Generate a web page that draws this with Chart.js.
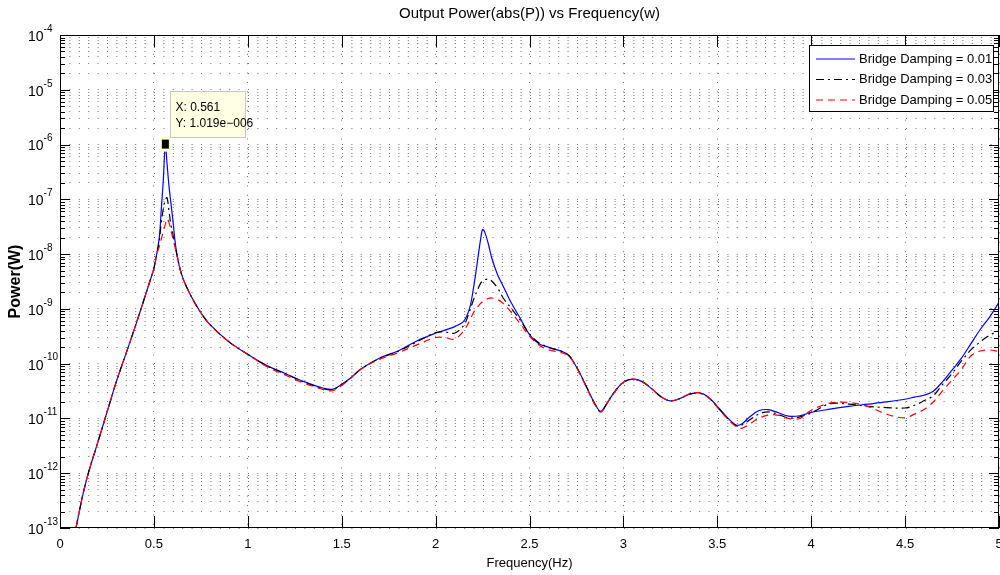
<!DOCTYPE html>
<html>
<head>
<meta charset="utf-8">
<script src="https://cdn.jsdelivr.net/npm/chart.js@4.4.1/dist/chart.umd.min.js"></script>
<style>
  html, body { margin: 0; padding: 0; background: #fff; }
  #wrap { width: 1000px; height: 575px; }
</style>
</head>
<body>
<div id="wrap"><canvas id="chart" width="1000" height="575"></canvas></div>
<script>
// frequency samples (Hz)
const freq = [
  0.085, 0.12, 0.15, 0.20, 0.25, 0.30, 0.35, 0.40, 0.45, 0.48,
  0.50, 0.52, 0.53, 0.54, 0.55, 0.561, 0.57, 0.58, 0.59, 0.60,
  0.62, 0.65, 0.70, 0.75, 0.80, 0.90, 1.00, 1.10, 1.20, 1.30,
  1.40, 1.45, 1.50, 1.55, 1.60, 1.70, 1.80, 1.90, 2.00, 2.05,
  2.10, 2.15, 2.18, 2.20, 2.22, 2.24, 2.25, 2.26, 2.28, 2.30,
  2.33, 2.36, 2.40, 2.45, 2.50, 2.55, 2.60, 2.70, 2.75, 2.80,
  2.85, 2.88, 2.92, 2.96, 3.00, 3.05, 3.10, 3.15, 3.20, 3.25,
  3.30, 3.35, 3.40, 3.45, 3.50, 3.55, 3.60, 3.63, 3.67, 3.72,
  3.77, 3.82, 3.88, 3.94, 4.00, 4.10, 4.20, 4.30, 4.40, 4.50,
  4.55, 4.60, 4.65, 4.70, 4.75, 4.80, 4.85, 4.90, 4.95, 5.00
];

// output power (W) for each bridge damping ratio
const power001 = [
  1.0e-13, 3.8e-13, 9.8e-13, 3.55e-12, 1.29e-11, 4.7e-11, 1.48e-10, 4.7e-10, 1.58e-9, 3.3e-9,
  5.5e-9, 1.26e-8, 2.2e-8, 7.1e-8, 2.2e-7, 1.019e-6, 4.5e-7, 1.8e-7, 8.9e-8, 4.5e-8,
  1.12e-8, 4.0e-9, 1.66e-9, 8.5e-10, 5.1e-10, 2.5e-10, 1.48e-10, 9.3e-11, 6.6e-11, 4.7e-11,
  3.6e-11, 3.4e-11, 4.2e-11, 5.6e-11, 7.9e-11, 1.26e-10, 1.7e-10, 2.6e-10, 3.6e-10, 4.1e-10,
  4.7e-10, 6.0e-10, 1.0e-9, 2.2e-9, 6.3e-9, 1.9e-8, 2.8e-8, 2.6e-8, 1.58e-8, 8.3e-9,
  4.2e-9, 2.6e-9, 1.35e-9, 6.8e-10, 3.4e-10, 2.3e-10, 2.0e-10, 1.5e-10, 8.7e-11, 4.0e-11,
  1.8e-11, 1.35e-11, 2.1e-11, 3.3e-11, 4.6e-11, 5.2e-11, 4.7e-11, 3.5e-11, 2.5e-11, 2.1e-11,
  2.3e-11, 2.75e-11, 2.95e-11, 2.5e-11, 1.66e-11, 1.07e-11, 7.6e-12, 7.9e-12, 1.05e-11, 1.38e-11,
  1.45e-11, 1.29e-11, 1.1e-11, 1.12e-11, 1.29e-11, 1.48e-11, 1.66e-11, 1.82e-11, 2.0e-11, 2.24e-11,
  2.45e-11, 2.65e-11, 3.15e-11, 4.7e-11, 7.6e-11, 1.26e-10, 2.3e-10, 4.2e-10, 7.1e-10, 1.32e-9
];
const power003 = [
  1.0e-13, 3.8e-13, 9.8e-13, 3.55e-12, 1.29e-11, 4.7e-11, 1.48e-10, 4.7e-10, 1.58e-9, 3.3e-9,
  5.5e-9, 1.2e-8, 1.9e-8, 4.0e-8, 6.6e-8, 1.0e-7, 1.07e-7, 6.3e-8, 3.5e-8, 2.4e-8,
  1.07e-8, 4.0e-9, 1.66e-9, 8.5e-10, 5.1e-10, 2.5e-10, 1.48e-10, 9.2e-11, 6.5e-11, 4.6e-11,
  3.5e-11, 3.35e-11, 4.1e-11, 5.5e-11, 7.8e-11, 1.24e-10, 1.68e-10, 2.5e-10, 3.7e-10, 3.8e-10,
  3.6e-10, 5.0e-10, 8.9e-10, 1.41e-9, 2.1e-9, 2.95e-9, 3.2e-9, 3.4e-9, 3.5e-9, 3.2e-9,
  2.4e-9, 1.58e-9, 1.05e-9, 6.3e-10, 3.5e-10, 2.4e-10, 2.0e-10, 1.5e-10, 8.7e-11, 4.0e-11,
  1.8e-11, 1.33e-11, 2.1e-11, 3.3e-11, 4.6e-11, 5.2e-11, 4.7e-11, 3.5e-11, 2.5e-11, 2.1e-11,
  2.3e-11, 2.75e-11, 2.9e-11, 2.45e-11, 1.62e-11, 1.05e-11, 7.4e-12, 7.6e-12, 9.3e-12, 1.2e-11,
  1.32e-11, 1.2e-11, 1.02e-11, 1.07e-11, 1.26e-11, 1.86e-11, 1.82e-11, 1.66e-11, 1.58e-11, 1.55e-11,
  1.74e-11, 2.1e-11, 2.6e-11, 4.2e-11, 6.6e-11, 1.12e-10, 1.78e-10, 2.5e-10, 3.3e-10, 4.0e-10
];
const power005 = [
  1.0e-13, 3.8e-13, 9.8e-13, 3.55e-12, 1.29e-11, 4.7e-11, 1.48e-10, 4.7e-10, 1.58e-9, 3.3e-9,
  5.4e-9, 1.12e-8, 1.41e-8, 1.9e-8, 2.6e-8, 3.5e-8, 4.4e-8, 3.8e-8, 2.8e-8, 2.0e-8,
  1.05e-8, 4.0e-9, 1.66e-9, 8.5e-10, 5.1e-10, 2.5e-10, 1.48e-10, 8.9e-11, 6.2e-11, 4.4e-11,
  3.4e-11, 3.2e-11, 4.0e-11, 5.5e-11, 7.8e-11, 1.2e-10, 1.58e-10, 2.2e-10, 3.0e-10, 3.0e-10,
  2.8e-10, 4.0e-10, 6.0e-10, 8.3e-10, 1.05e-9, 1.26e-9, 1.35e-9, 1.41e-9, 1.55e-9, 1.58e-9,
  1.48e-9, 1.26e-9, 8.9e-10, 5.4e-10, 3.2e-10, 2.2e-10, 1.8e-10, 1.45e-10, 8.5e-11, 3.9e-11,
  1.75e-11, 1.3e-11, 2.05e-11, 3.25e-11, 4.6e-11, 5.2e-11, 4.7e-11, 3.5e-11, 2.5e-11, 2.1e-11,
  2.3e-11, 2.8e-11, 2.95e-11, 2.45e-11, 1.6e-11, 1.02e-11, 7.1e-12, 6.6e-12, 7.9e-12, 1.0e-11,
  1.15e-11, 1.15e-11, 1.0e-11, 1.0e-11, 1.41e-11, 1.9e-11, 1.95e-11, 1.66e-11, 1.2e-11, 1.02e-11,
  1.2e-11, 1.45e-11, 2.0e-11, 3.2e-11, 5.0e-11, 7.9e-11, 1.38e-10, 1.7e-10, 1.78e-10, 1.66e-10
];

const seriesLabels = ['Bridge Damping = 0.01', 'Bridge Damping = 0.03', 'Bridge Damping = 0.05'];
const xTicks = [0, 0.5, 1, 1.5, 2, 2.5, 3, 3.5, 4, 4.5, 5];
const yDecades = [-13, -12, -11, -10, -9, -8, -7, -6, -5, -4];
const minorSteps = [2, 3, 4, 5, 6, 7, 8, 9];
const dataTip = { x: 0.561, y: 1.019e-6 };

const FONT = "'Liberation Sans', Arial, Helvetica, sans-serif";
const gridColor = 'rgba(0,0,0,0.55)';

const points = vals => freq.map((f, i) => ({ x: f, y: vals[i] }));

const isDecade = v => Math.abs(Math.log10(v) - Math.round(Math.log10(v))) < 1e-6;

// box, inward ticks, superscript log labels, legend and data cursor
const matlabAxes = {
  id: 'matlabAxes',
  afterDatasetsDraw(chart) {
    const { ctx, chartArea: a, scales: { x, y } } = chart;
    ctx.save();
    ctx.setLineDash([]);
    ctx.strokeStyle = '#000';
    ctx.lineWidth = 1;

    const seg = (x1, y1, x2, y2) => {
      ctx.beginPath(); ctx.moveTo(x1, y1); ctx.lineTo(x2, y2); ctx.stroke();
    };

    y.ticks.forEach(t => {
      const py = Math.round(y.getPixelForValue(t.value)) + 0.5;
      const len = isDecade(t.value) ? 10 : 5;
      seg(a.left, py, a.left + len, py);
      seg(a.right - len, py, a.right, py);
    });
    x.ticks.forEach(t => {
      const px = Math.round(x.getPixelForValue(t.value)) + 0.5;
      seg(px, a.bottom, px, a.bottom - 12);
      seg(px, a.top, px, a.top + 12);
    });
    ctx.strokeRect(a.left + 0.5, a.top + 0.5, a.width - 1, a.height - 1);

    // tick labels
    ctx.fillStyle = '#000';
    ctx.textBaseline = 'middle';
    ctx.textAlign = 'center';
    ctx.font = '13px ' + FONT;
    xTicks.forEach(v => {
      ctx.fillText(String(v), x.getPixelForValue(v), a.bottom + 16);
    });
    ctx.textAlign = 'left';
    yDecades.forEach(d => {
      const py = y.getPixelForValue(Math.pow(10, d));
      ctx.font = '14px ' + FONT;
      ctx.fillText('10', 28, py + 2);
      const w = ctx.measureText('10').width;
      ctx.font = '10px ' + FONT;
      ctx.fillText('-' + Math.abs(d), 28 + w, py - 6);
    });

    // legend
    const lw = 185, lh = 67;
    const lx = a.right - lw - 5, ly = a.top + 10;
    ctx.fillStyle = '#fff';
    ctx.fillRect(lx, ly, lw, lh);
    ctx.strokeStyle = '#000';
    ctx.strokeRect(lx + 0.5, ly + 0.5, lw - 1, lh - 1);
    ctx.font = '13px ' + FONT;
    chart.data.datasets.forEach((ds, i) => {
      const ry = ly + 14 + i * 20.5;
      ctx.strokeStyle = ds.borderColor;
      ctx.lineWidth = ds.borderWidth;
      ctx.setLineDash(ds.borderDash || []);
      seg(lx + 7, ry, lx + 46, ry);
      ctx.setLineDash([]);
      ctx.fillStyle = '#000';
      ctx.fillText(ds.label, lx + 50, ry);
    });

    // data cursor on the first resonance
    const mx = x.getPixelForValue(dataTip.x);
    const my = y.getPixelForValue(dataTip.y);
    ctx.fillStyle = 'rgb(255,255,210)';
    ctx.fillRect(mx - 5.5, my - 7.5, 11, 15);
    ctx.fillStyle = '#000';
    ctx.fillRect(mx - 3.5, my - 4.5, 7, 9);
    const bx = Math.round(mx + 5) + 0.5, by = Math.round(my - 53) + 0.5;
    ctx.fillStyle = 'rgb(255,255,228)';
    ctx.fillRect(bx, by, 75, 46);
    ctx.strokeStyle = 'rgb(200,200,190)';
    ctx.lineWidth = 1;
    ctx.strokeRect(bx, by, 75, 46);
    ctx.fillStyle = '#000';
    ctx.font = '12px ' + FONT;
    ctx.fillText('X: ' + dataTip.x, bx + 5, by + 16);
    ctx.fillText('Y: 1.019e\u2212006', bx + 5, by + 32);
    ctx.restore();
  }
};

new Chart(document.getElementById('chart'), {
  type: 'line',
  data: {
    datasets: [
      {
        label: seriesLabels[0], data: points(power001),
        borderColor: '#0000ff', borderWidth: 1.2, order: 3
      },
      {
        label: seriesLabels[1], data: points(power003),
        borderColor: '#000000', borderWidth: 1.2, borderDash: [8, 4, 2, 4], order: 2
      },
      {
        label: seriesLabels[2], data: points(power005),
        borderColor: '#ff0000', borderWidth: 1.2, borderDash: [7, 5], order: 1
      }
    ]
  },
  options: {
    responsive: false,
    animation: false,
    devicePixelRatio: 1,
    layout: { padding: { top: 0, right: 1, bottom: 0, left: 0 } },
    elements: {
      point: { radius: 0, hoverRadius: 0 },
      line: { tension: 0.35, fill: false }
    },
    plugins: {
      legend: { display: false },
      tooltip: { enabled: false },
      title: {
        display: true,
        fullSize: false,
        text: 'Output Power(abs(P)) vs Frequency(w)',
        color: '#000',
        font: { family: FONT, size: 15, weight: 'normal' },
        padding: { top: 5, bottom: 12 }
      }
    },
    scales: {
      x: {
        type: 'linear',
        min: 0,
        max: 5,
        afterBuildTicks: s => { s.ticks = xTicks.map(v => ({ value: v })); },
        afterFit: s => { s.height = 47; },
        ticks: { display: false },
        grid: { color: gridColor, lineWidth: 1, drawTicks: false, borderDash: [1, 8.4] },
        border: { display: false, dash: [1, 8.4] },
        title: {
          display: true,
          text: 'Frequency(Hz)',
          color: '#000',
          font: { family: FONT, size: 13 },
          padding: { top: 0, bottom: 4 }
        }
      },
      y: {
        type: 'logarithmic',
        min: 1e-13,
        max: 1e-4,
        afterBuildTicks: s => {
          const ticks = [];
          yDecades.forEach(d => {
            ticks.push({ value: Math.pow(10, d) });
            if (d < -4) minorSteps.forEach(k => ticks.push({ value: k * Math.pow(10, d) }));
          });
          s.ticks = ticks;
        },
        afterFit: s => { s.width = 60; },
        ticks: { display: false },
        grid: { color: gridColor, lineWidth: 1, drawTicks: false, borderDash: [1, 8.4] },
        border: { display: false, dash: [1, 8.4] },
        title: {
          display: true,
          text: 'Power(W)',
          color: '#000',
          font: { family: FONT, size: 16, weight: 'bold' },
          padding: { top: 6, bottom: 0 }
        }
      }
    }
  },
  plugins: [matlabAxes]
});
</script>
</body>
</html>
